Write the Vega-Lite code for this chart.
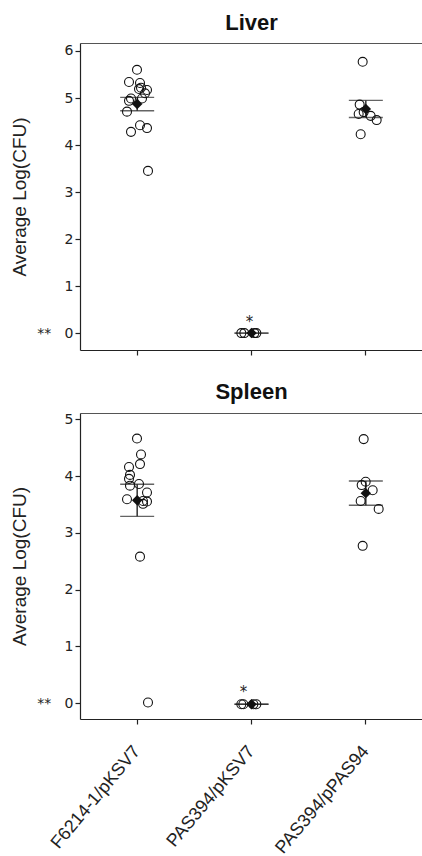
{
  "$schema": "https://vega.github.io/schema/vega-lite/v6.json",
  "padding": {"left": 10, "top": 12, "right": 0, "bottom": 0},
  "spacing": 25,
  "datasets": {
    "liver": [
      {"strain": "F6214-1/pKSV7", "value": 5.60, "jitter": 0},
      {"strain": "F6214-1/pKSV7", "value": 5.34, "jitter": -8},
      {"strain": "F6214-1/pKSV7", "value": 5.32, "jitter": 3},
      {"strain": "F6214-1/pKSV7", "value": 5.22, "jitter": 4},
      {"strain": "F6214-1/pKSV7", "value": 5.19, "jitter": 2},
      {"strain": "F6214-1/pKSV7", "value": 5.17, "jitter": 10},
      {"strain": "F6214-1/pKSV7", "value": 5.10, "jitter": 8},
      {"strain": "F6214-1/pKSV7", "value": 4.99, "jitter": -6},
      {"strain": "F6214-1/pKSV7", "value": 4.94, "jitter": -8},
      {"strain": "F6214-1/pKSV7", "value": 4.99, "jitter": 5},
      {"strain": "F6214-1/pKSV7", "value": 4.71, "jitter": -10},
      {"strain": "F6214-1/pKSV7", "value": 4.42, "jitter": 3},
      {"strain": "F6214-1/pKSV7", "value": 4.36, "jitter": 10},
      {"strain": "F6214-1/pKSV7", "value": 4.28, "jitter": -6},
      {"strain": "F6214-1/pKSV7", "value": 3.45, "jitter": 11},
      {"strain": "PAS394/pKSV7", "value": 0, "jitter": -10},
      {"strain": "PAS394/pKSV7", "value": 0, "jitter": -7},
      {"strain": "PAS394/pKSV7", "value": 0, "jitter": 3},
      {"strain": "PAS394/pKSV7", "value": 0, "jitter": 5},
      {"strain": "PAS394/pPAS94", "value": 5.77, "jitter": -3},
      {"strain": "PAS394/pPAS94", "value": 4.86, "jitter": -6},
      {"strain": "PAS394/pPAS94", "value": 4.70, "jitter": -2},
      {"strain": "PAS394/pPAS94", "value": 4.66, "jitter": -7},
      {"strain": "PAS394/pPAS94", "value": 4.62, "jitter": 5},
      {"strain": "PAS394/pPAS94", "value": 4.53, "jitter": 11},
      {"strain": "PAS394/pPAS94", "value": 4.23, "jitter": -5}
    ],
    "spleen": [
      {"strain": "F6214-1/pKSV7", "value": 4.66, "jitter": 0},
      {"strain": "F6214-1/pKSV7", "value": 4.38, "jitter": 4},
      {"strain": "F6214-1/pKSV7", "value": 4.21, "jitter": 3},
      {"strain": "F6214-1/pKSV7", "value": 4.16, "jitter": -8},
      {"strain": "F6214-1/pKSV7", "value": 4.02, "jitter": -7},
      {"strain": "F6214-1/pKSV7", "value": 3.95, "jitter": -8},
      {"strain": "F6214-1/pKSV7", "value": 3.86, "jitter": 2},
      {"strain": "F6214-1/pKSV7", "value": 3.83, "jitter": -7},
      {"strain": "F6214-1/pKSV7", "value": 3.71, "jitter": 10},
      {"strain": "F6214-1/pKSV7", "value": 3.59, "jitter": -10},
      {"strain": "F6214-1/pKSV7", "value": 3.56, "jitter": 6},
      {"strain": "F6214-1/pKSV7", "value": 3.55, "jitter": 10},
      {"strain": "F6214-1/pKSV7", "value": 3.51, "jitter": 6},
      {"strain": "F6214-1/pKSV7", "value": 2.58, "jitter": 3},
      {"strain": "F6214-1/pKSV7", "value": 0.01, "jitter": 11},
      {"strain": "PAS394/pKSV7", "value": -0.02, "jitter": -10},
      {"strain": "PAS394/pKSV7", "value": -0.02, "jitter": -8},
      {"strain": "PAS394/pKSV7", "value": -0.02, "jitter": 2},
      {"strain": "PAS394/pKSV7", "value": -0.02, "jitter": 5},
      {"strain": "PAS394/pPAS94", "value": 4.65, "jitter": -2},
      {"strain": "PAS394/pPAS94", "value": 3.90, "jitter": 0},
      {"strain": "PAS394/pPAS94", "value": 3.84, "jitter": -4},
      {"strain": "PAS394/pPAS94", "value": 3.75, "jitter": 7},
      {"strain": "PAS394/pPAS94", "value": 3.56, "jitter": -5},
      {"strain": "PAS394/pPAS94", "value": 3.42, "jitter": 13},
      {"strain": "PAS394/pPAS94", "value": 2.77, "jitter": -3}
    ],
    "liverNote": [{"strain": "PAS394/pKSV7", "value": 0.24, "label": "*"}],
    "spleenNote": [{"strain": "PAS394/pKSV7", "value": 0.19, "label": "*"}]
  },
  "vconcat": [
    {
      "title": {"text": "Liver"},
      "width": 343,
      "height": 307,
      "resolve": {"axis": {"x": "independent"}},
      "layer": [
        {
          "data": {"name": "liver"},
          "mark": {"type": "errorbar", "extent": "stderr", "ticks": {"size": 34, "thickness": 1.4, "color": "#222"}, "rule": {"color": "#222", "strokeWidth": 1.4}},
          "encoding": {
            "x": {"field": "strain", "type": "nominal", "sort": ["F6214-1/pKSV7", "PAS394/pKSV7", "PAS394/pPAS94"], "scale": {"type": "band", "paddingInner": 0, "paddingOuter": 0}, "axis": {"labels": false, "ticks": true, "title": null, "domain": true}},
            "y": {"field": "value", "type": "quantitative", "title": "Average Log(CFU)", "scale": {"domain": [-0.36, 6.17], "nice": false, "zero": false}, "axis": {"values": [0, 1, 2, 3, 4, 5, 6], "format": "d", "labelExpr": "datum.value == 0 ? '**\u00a0\u00a0\u00a00' : datum.label", "titlePadding": 7}}
          }
        },
        {
          "data": {"name": "liver"},
          "mark": {"type": "point", "shape": "circle", "filled": false, "size": 80, "stroke": "#111", "strokeWidth": 1.1, "opacity": 1},
          "encoding": {
            "x": {"field": "strain", "type": "nominal", "sort": ["F6214-1/pKSV7", "PAS394/pKSV7", "PAS394/pPAS94"], "scale": {"type": "band", "paddingInner": 0, "paddingOuter": 0}, "axis": null},
            "xOffset": {"field": "jitter", "type": "quantitative", "scale": {"domain": [-57, 57], "range": [0, 114]}},
            "y": {"field": "value", "type": "quantitative", "title": "Average Log(CFU)"}
          }
        },
        {
          "data": {"name": "liver"},
          "mark": {"type": "point", "shape": "diamond", "filled": true, "size": 110, "color": "#111", "opacity": 1},
          "encoding": {
            "x": {"field": "strain", "type": "nominal", "sort": ["F6214-1/pKSV7", "PAS394/pKSV7", "PAS394/pPAS94"], "scale": {"type": "band", "paddingInner": 0, "paddingOuter": 0}, "axis": null},
            "y": {"aggregate": "mean", "field": "value", "type": "quantitative", "title": "Average Log(CFU)"}
          }
        },
        {
          "data": {"name": "liverNote"},
          "mark": {"type": "text", "font": "DejaVu Sans", "fontSize": 15, "color": "#222", "dx": -2},
          "encoding": {
            "x": {"field": "strain", "type": "nominal", "sort": ["F6214-1/pKSV7", "PAS394/pKSV7", "PAS394/pPAS94"], "scale": {"type": "band", "paddingInner": 0, "paddingOuter": 0}, "axis": {"orient": "top", "labels": false, "ticks": false, "title": null, "domain": true, "domainColor": "#555"}},
            "y": {"field": "value", "type": "quantitative", "title": "Average Log(CFU)"},
            "text": {"field": "label"}
          }
        }
      ]
    },
    {
      "title": {"text": "Spleen"},
      "width": 343,
      "height": 306,
      "resolve": {"axis": {"x": "independent"}},
      "layer": [
        {
          "data": {"name": "spleen"},
          "mark": {"type": "errorbar", "extent": "stderr", "ticks": {"size": 34, "thickness": 1.4, "color": "#222"}, "rule": {"color": "#222", "strokeWidth": 1.4}},
          "encoding": {
            "x": {"field": "strain", "type": "nominal", "sort": ["F6214-1/pKSV7", "PAS394/pKSV7", "PAS394/pPAS94"], "scale": {"type": "band", "paddingInner": 0, "paddingOuter": 0}, "axis": {"title": null, "labelAngle": -50, "labelAlign": "right", "labelBaseline": "middle", "labelFont": "Liberation Sans", "labelFontSize": 18, "labelPadding": 24, "domain": true}},
            "y": {"field": "value", "type": "quantitative", "title": "Average Log(CFU)", "scale": {"domain": [-0.28, 5.11], "nice": false, "zero": false}, "axis": {"values": [0, 1, 2, 3, 4, 5], "format": "d", "labelExpr": "datum.value == 0 ? '**\u00a0\u00a0\u00a00' : datum.label", "titlePadding": 7}}
          }
        },
        {
          "data": {"name": "spleen"},
          "mark": {"type": "point", "shape": "circle", "filled": false, "size": 80, "stroke": "#111", "strokeWidth": 1.1, "opacity": 1},
          "encoding": {
            "x": {"field": "strain", "type": "nominal", "sort": ["F6214-1/pKSV7", "PAS394/pKSV7", "PAS394/pPAS94"], "scale": {"type": "band", "paddingInner": 0, "paddingOuter": 0}, "axis": null},
            "xOffset": {"field": "jitter", "type": "quantitative", "scale": {"domain": [-57, 57], "range": [0, 114]}},
            "y": {"field": "value", "type": "quantitative", "title": "Average Log(CFU)"}
          }
        },
        {
          "data": {"name": "spleen"},
          "mark": {"type": "point", "shape": "diamond", "filled": true, "size": 110, "color": "#111", "opacity": 1},
          "encoding": {
            "x": {"field": "strain", "type": "nominal", "sort": ["F6214-1/pKSV7", "PAS394/pKSV7", "PAS394/pPAS94"], "scale": {"type": "band", "paddingInner": 0, "paddingOuter": 0}, "axis": null},
            "y": {"aggregate": "mean", "field": "value", "type": "quantitative", "title": "Average Log(CFU)"}
          }
        },
        {
          "data": {"name": "spleenNote"},
          "mark": {"type": "text", "font": "DejaVu Sans", "fontSize": 15, "color": "#222", "dx": -8},
          "encoding": {
            "x": {"field": "strain", "type": "nominal", "sort": ["F6214-1/pKSV7", "PAS394/pKSV7", "PAS394/pPAS94"], "scale": {"type": "band", "paddingInner": 0, "paddingOuter": 0}, "axis": {"orient": "top", "labels": false, "ticks": false, "title": null, "domain": true, "domainColor": "#555"}},
            "y": {"field": "value", "type": "quantitative", "title": "Average Log(CFU)"},
            "text": {"field": "label"}
          }
        }
      ]
    }
  ],
  "config": {
    "view": {"stroke": null},
    "axis": {"domainColor": "#222", "tickColor": "#222", "labelColor": "#222", "titleColor": "#222", "grid": false, "labelFont": "DejaVu Sans", "labelFontSize": 14, "titleFont": "Liberation Sans", "titleFontSize": 19, "titleFontWeight": "normal", "tickSize": 5, "domainWidth": 1.2, "tickWidth": 1.2},
    "title": {"font": "Liberation Sans", "fontSize": 22, "fontWeight": "bold", "color": "#111", "offset": 8}
  }
}
